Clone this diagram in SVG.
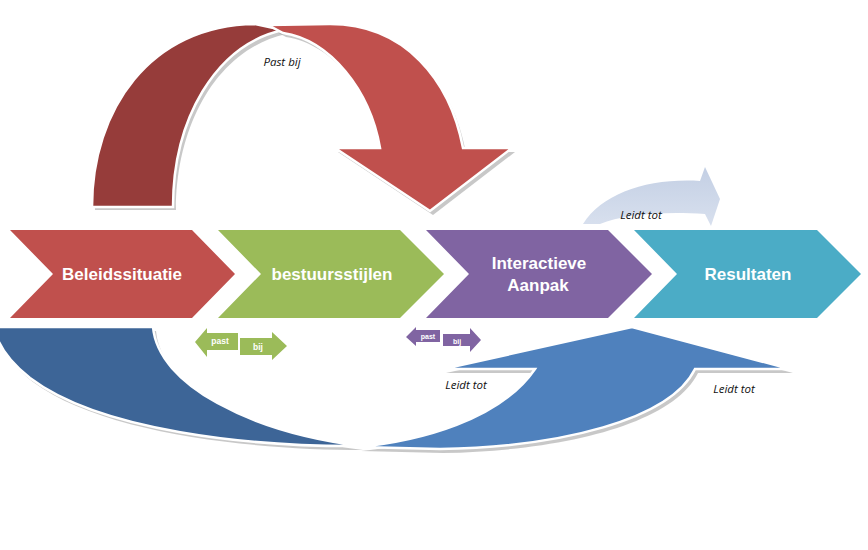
<svg xmlns="http://www.w3.org/2000/svg" width="868" height="550" viewBox="0 0 868 550">
<defs>
<style>
.chev-text{font-family:"Liberation Sans",Arial,sans-serif;font-weight:bold;font-size:17px;fill:#ffffff;text-anchor:middle}
.lbl{font-family:"Open Sans","DejaVu Sans",sans-serif;font-style:italic;font-size:11.5px;fill:#111111;text-anchor:middle}
.small{font-family:"Liberation Sans",Arial,sans-serif;font-weight:bold;fill:#ffffff;text-anchor:middle}
.band{stroke:#ffffff;stroke-width:2.5;stroke-linejoin:miter}
.shadow{fill:#9a9a9a;opacity:0.55}
</style>
<linearGradient id="lightArrow" x1="0" y1="0" x2="0" y2="1">
<stop offset="0" stop-color="#C3CFE4"/>
<stop offset="1" stop-color="#D8E0EE"/>
</linearGradient>
</defs>
<rect width="868" height="550" fill="#ffffff"/>

<g id="connectors">
  <!-- top red curved arrow (Past bij) -->
  <g id="arc-top">
    <path class="shadow" d="M95,210 C95,114 153,29 258,28 L286,34 C218,49 176,124 176,210 Z"/>
    <path class="shadow" d="M271,29 L333,28 C408,28 453,84 466,152 L515,152 L433,215 L338,152 L383,152 C373,94 333,44 286,37 Z"/>
    <path class="band" fill="#963C3A" d="M92,207 C92,110 150,25 255,24 L283,30 C215,45 173,120 173,207 Z"/>
    <path class="band" fill="#C0504D" d="M268,25 L330,24 C405,24 450,80 463,148 L512,148 L430,211 L335,148 L380,148 C370,90 330,40 283,33 Z"/>
    <text class="lbl" x="282" y="66">Past bij</text>
  </g>
  <!-- light blue curved arrow top right -->
  <g id="arc-light">
    <path fill="url(#lightArrow)" d="M583,224 C603,193 648,178 700,181 L705,167 L720,199 L711,226 L705,214 C660,211 622,215 600,224 Z"/>
    <text class="lbl" x="641" y="219">Leidt tot</text>
  </g>
  <!-- bottom blue curved arrow -->
  <g id="arc-bottom">
    <path class="shadow" d="M-5,331 L156,331 C161,389 253,436 363,450 C253,450 103,434 33,382 C13,366 1,349 -5,334 Z"/>
    <path class="shadow" d="M361,451 C423,445 503,424 538,373 L446,373 L635,331 L793,373 L698,373 C673,424 563,451 443,453 Z"/>
    <path class="band" fill="#3D6597" d="M-5,327 L153,327 C158,385 250,432 362,446 C250,447 100,431 30,378 C10,362 -2,345 -5,330 Z"/>
    <path class="band" fill="#4F81BD" d="M358,447 C420,441 500,420 535,369 L443,369 L632,327 L790,369 L695,369 C670,420 560,447 440,449 Z"/>
    <text class="lbl" x="466" y="389">Leidt tot</text>
    <text class="lbl" x="734" y="393">Leidt tot</text>
  </g>
  <!-- small green arrows -->
  <g id="green-past-bij">
    <path fill="#9BBB59" d="M195,342 L207,328 L207,333 L238,333 L238,350 L207,350 L207,357 Z"/>
    <text class="small" x="220" y="344" font-size="8.5">past</text>
    <path fill="#9BBB59" d="M240,338 L272,338 L272,332 L287,346 L272,360 L272,355 L240,355 Z"/>
    <text class="small" x="258" y="350" font-size="8.5">bij</text>
  </g>
  <!-- small purple arrows -->
  <g id="purple-past-bij">
    <path fill="#8064A2" d="M406,337 L416,327 L416,330 L440,330 L440,342 L416,342 L416,346 Z"/>
    <text class="small" x="428" y="339" font-size="7">past</text>
    <path fill="#8064A2" d="M443,334 L470,334 L470,328 L481,340 L470,352 L470,346 L443,346 Z"/>
    <text class="small" x="457" y="344" font-size="7">bij</text>
  </g>
</g>

<g id="node-beleidssituatie">
  <polygon fill="#C0504D" points="10,230 192,230 235,274 192,318 10,318 53,274"/>
  <text class="chev-text" x="122" y="280">Beleidssituatie</text>
</g>
<g id="node-bestuursstijlen">
  <polygon fill="#9BBB59" points="218,230 400,230 444,274 400,318 218,318 261,274"/>
  <text class="chev-text" x="332" y="280">bestuursstijlen</text>
</g>
<g id="node-interactieve">
  <polygon fill="#8064A2" points="426,230 608,230 652,274 608,318 426,318 469,274"/>
  <text class="chev-text" x="539" y="269">Interactieve</text>
  <text class="chev-text" x="538" y="291">Aanpak</text>
</g>
<g id="node-resultaten">
  <polygon fill="#4BACC6" points="634,230 817,230 861,274 817,318 634,318 677,274"/>
  <text class="chev-text" x="748" y="280">Resultaten</text>
</g>
</svg>
